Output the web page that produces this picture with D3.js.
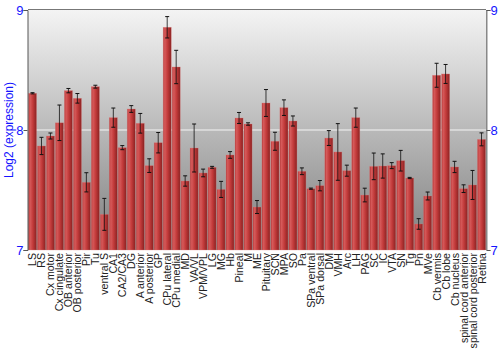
<!DOCTYPE html>
<html><head><meta charset="utf-8">
<script src="https://cdn.jsdelivr.net/npm/d3@7/dist/d3.min.js"></script>
<style>body{margin:0;background:#fff}svg{display:block}</style>
</head><body>
<svg id="c" width="500" height="350"></svg>
<script>
const categories = ["LS","RS","Cx motor","Cx cingulate","OB anterior","OB posterior","Pir","Tu","ventral S","CA1","CA2/CA3","DG","A anterior","A posterior","GP","CPu lateral","CPu medial","MD","VA/VL","VPM/VPL","LG","MG","Hb","Pineal","M","ME","Pituitary","SCN","MPA","SO","Pa","SPa ventral","SPa dorsal","DM","VMH","Arc","LH","PAG","SC","IC","VTA","SN","Tg","Pn","MVe","Cb vermis","Cb lobe","Cb nucleus","spinal cord anterior","spinal cord posterior","Retina"];
const values = [8.306,7.867,7.95,8.06,8.328,8.264,7.564,8.361,7.297,8.103,7.853,8.175,8.056,7.703,7.894,8.856,8.525,7.575,7.85,7.642,7.689,7.505,7.792,8.1,8.05,7.358,8.225,7.906,8.186,8.075,7.656,7.511,7.536,7.933,7.817,7.661,8.103,7.458,7.697,7.7,7.703,7.744,7.6,7.217,7.45,8.456,8.467,7.692,7.511,7.542,7.922];
const errors = [0.005,0.072,0.025,0.148,0.018,0.04,0.08,0.012,0.133,0.08,0.017,0.028,0.082,0.057,0.085,0.089,0.139,0.043,0.2,0.032,0.008,0.067,0.028,0.046,0.01,0.054,0.112,0.075,0.065,0.042,0.028,0.005,0.043,0.062,0.236,0.046,0.08,0.057,0.111,0.101,0.025,0.086,0.005,0.044,0.033,0.1,0.079,0.047,0.032,0.121,0.054];
const yTicks = [7,8,9];
const yTitle = "Log2 (expression)";

const svg = d3.select("#c");
const L = 28, R = 486, T = 10, B = 250;
const x = d3.scaleBand().domain(categories).range([L, R]).paddingInner(0.1).paddingOuter(0.05);
const y = d3.scaleLinear().domain([7, 9]).range([B, T]);

const defs = svg.append("defs");
const bg = defs.append("linearGradient").attr("id","bg").attr("x1",0).attr("y1",0).attr("x2",0).attr("y2",1);
bg.append("stop").attr("offset","0%").attr("stop-color","#f4f4f4");
bg.append("stop").attr("offset","100%").attr("stop-color","#7e7e7e");
const bar = defs.append("linearGradient").attr("id","bar").attr("x1",0).attr("y1",0).attr("x2",1).attr("y2",0);
[[0,"#b53535"],[0.2,"#d65a5a"],[0.55,"#c23a3a"],[1,"#8a2222"]].forEach(s=>bar.append("stop").attr("offset",s[0]).attr("stop-color",s[1]));

svg.append("rect").attr("x",L).attr("y",T).attr("width",R-L).attr("height",B-T).attr("fill","url(#bg)");
svg.append("line").attr("x1",L).attr("x2",R).attr("y1",y(8)).attr("y2",y(8)).attr("stroke","#f4f4f4").attr("stroke-width",1);

const g = svg.append("g");
g.selectAll("rect.b").data(categories).join("rect").attr("class","b")
  .attr("x",d=>x(d)).attr("width",x.bandwidth())
  .attr("y",(d,i)=>y(values[i])).attr("height",(d,i)=>B-y(values[i]))
  .attr("fill","url(#bar)").attr("stroke","#e08080").attr("stroke-opacity",0.5).attr("stroke-width",0.6);

const eb = svg.append("g").attr("stroke","#111").attr("stroke-width",1);
categories.forEach((c,i)=>{
  const cx = x(c)+x.bandwidth()/2;
  const y1 = y(values[i]+errors[i]), y2 = y(values[i]-errors[i]);
  eb.append("line").attr("x1",cx).attr("x2",cx).attr("y1",y1).attr("y2",y2).attr("stroke-opacity",0.8);
  eb.append("line").attr("x1",cx-2).attr("x2",cx+2).attr("y1",y1).attr("y2",y1);
  eb.append("line").attr("x1",cx-2).attr("x2",cx+2).attr("y1",y2).attr("y2",y2);
});

// borders
svg.append("line").attr("x1",L).attr("x2",R).attr("y1",T-0.5).attr("y2",T-0.5).attr("stroke","#777");
svg.append("line").attr("x1",R+0.5).attr("x2",R+0.5).attr("y1",T).attr("y2",B).attr("stroke","#888");

const yl = d3.axisLeft(y).tickValues(yTicks).tickFormat(d3.format("d")).tickSize(4);
const ya = svg.append("g").attr("transform",`translate(${L-0.5},0)`).call(yl);
ya.select(".domain").attr("stroke","#555");
ya.selectAll(".tick line").attr("stroke","#555");
ya.selectAll("text").attr("fill","#1515ff").attr("font-family","Liberation Sans, Arial, sans-serif").attr("font-size",13).attr("dx",3);

const yr = d3.axisRight(y).tickValues(yTicks).tickFormat(d3.format("d")).tickSize(4);
const yra = svg.append("g").attr("transform",`translate(${R+0.5},0)`).call(yr);
yra.select(".domain").attr("stroke","#888");
yra.selectAll(".tick line").attr("stroke","#555");
yra.selectAll("text").attr("fill","#1515ff").attr("font-family","Liberation Sans, Arial, sans-serif").attr("font-size",13).attr("dx",-3);

svg.append("text").attr("transform",`translate(13,${(T+B)/2}) rotate(-90)`).attr("text-anchor","middle")
  .attr("fill","#1515ff").attr("font-family","Liberation Sans, Arial, sans-serif").attr("font-size",12).text(yTitle);

svg.append("g").selectAll("text").data(categories).join("text")
  .attr("transform",d=>`translate(${x(d)+x.bandwidth()/2+4},${B+3}) rotate(-90)`)
  .attr("text-anchor","end").attr("fill","#222").attr("font-family","Liberation Sans, Arial, sans-serif").attr("font-size",10.6)
  .text(d=>d);
</script>
</body></html>
